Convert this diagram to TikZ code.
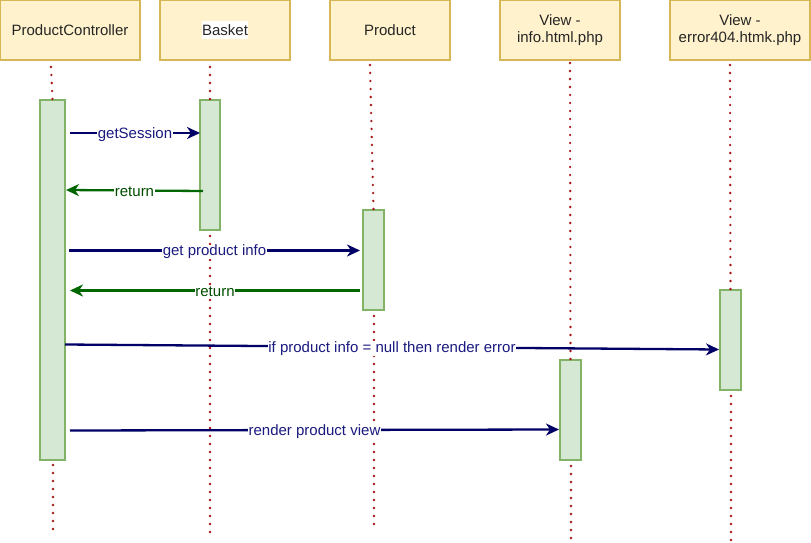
\documentclass[tikz,border=0pt]{standalone}
\usepackage{fontspec}
\setmainfont{Liberation Sans}
\usetikzlibrary{arrows.meta}
\definecolor{hdrfill}{HTML}{FFF2CC}
\definecolor{hdrdraw}{HTML}{D6B656}
\definecolor{actfill}{HTML}{D5E8D4}
\definecolor{actdraw}{HTML}{82B366}
\definecolor{lifec}{HTML}{A31515}
\definecolor{callc}{HTML}{000066}
\definecolor{callt}{HTML}{1A1A80}
\definecolor{retc}{HTML}{006600}
\definecolor{rett}{HTML}{004D00}
\begin{document}
\begin{tikzpicture}[x=1pt,y=-1pt,
  font=\fontsize{15pt}{17pt}\selectfont,
  hdr/.style={rectangle,draw=hdrdraw,fill=hdrfill,line width=1.3pt,inner sep=0pt,align=center,text=black!85},
  act/.style={rectangle,draw=actdraw,fill=actfill,line width=1.3pt,inner sep=0pt},
  life/.style={draw=lifec,line width=2.6pt,line cap=round,dash pattern=on 0pt off 8pt},
  call/.style={draw=callc,line width=2.3pt,-{Stealth[length=13pt,width=12pt,inset=4pt]}},
  ret/.style={draw=retc,line width=2.3pt,-{Stealth[length=13pt,width=12pt,inset=4pt]}},
  clab/.style={fill=white,inner sep=0.5pt,text=callt,yshift=-1.5pt},
  rlab/.style={fill=white,inner sep=0.5pt,text=rett,yshift=-1.5pt}
]
\useasboundingbox (0,0) rectangle (811,543);
% headers
\node[hdr,minimum width=140pt,minimum height=60pt] (pc) at (70,30) {ProductController};
\node[hdr,minimum width=130pt,minimum height=60pt] (bk) at (225,30) {\colorbox{white}{\hspace{-2.5pt}Basket\hspace{-2.5pt}}};
\node[hdr,minimum width=120pt,minimum height=60pt] (pr) at (390,30) {Product};
\node[hdr,minimum width=120pt,minimum height=60pt] (vi) at (560,30) {View -\\info.html.php};
\node[hdr,minimum width=140pt,minimum height=60pt] (ve) at (740,30) {View -\\error404.htmk.php};
% lifeline points
\coordinate (pcA) at (51,67); \coordinate (pcB) at (53,465); \coordinate (pcC) at (53,530);
\coordinate (bkA) at (210,67); \coordinate (bkB) at (210,236); \coordinate (bkC) at (210,533);
\coordinate (prA) at (370,65); \coordinate (prB) at (374,316); \coordinate (prC) at (374,530);
\coordinate (viA) at (570,63); \coordinate (viB) at (571,466); \coordinate (viC) at (571,540);
\coordinate (veA) at (730,65); \coordinate (veB) at (731,396); \coordinate (veC) at (731,540);
% activations
\node[act,minimum width=25pt,minimum height=360pt] (pcx) at (52.5,280) {};
\node[act,minimum width=20pt,minimum height=130pt] (bkx) at (210,165) {};
\node[act,minimum width=21pt,minimum height=100pt] (prx) at (373.5,260) {};
\node[act,minimum width=21pt,minimum height=100pt] (vix) at (570.5,410) {};
\node[act,minimum width=21pt,minimum height=100pt] (vex) at (730.5,340) {};
% lifelines
\draw[life] (pcA) -- (pcx.north);
\draw[life] (pcB) -- (pcC);
\draw[life] (bkA) -- (bkx.north);
\draw[life] (bkB) -- (bkC);
\draw[life] (prA) -- (prx.north);
\draw[life] (prB) -- (prC);
\draw[life] (viA) -- (vix.north);
\draw[life] (viB) -- (viC);
\draw[life] (veA) -- (vex.north);
\draw[life] (veB) -- (veC);
% messages
\coordinate (m1s) at (70,133); \coordinate (m1e) at (200,133);
\coordinate (m2s) at (203,191); \coordinate (m2e) at (66,190);
\coordinate (m3s) at (69,250.5); \coordinate (m3e) at (360,250.5);
\coordinate (m4s) at (360,290.5); \coordinate (m4e) at (70,290.5);
\coordinate (m5s) at (65,344.5); \coordinate (m5e) at (719,349.5);
\coordinate (m6s) at (70,430.5); \coordinate (m6e) at (559,429.5);
\draw[call] (m1s) -- node[clab] (l1) {getSession} (m1e);
\draw[ret] (m2s) -- node[rlab] (l2) {return} (m2e);
\draw[call] (m3s) -- node[clab] (l3) {get product info} (m3e);
\draw[ret] (m4s) -- node[rlab,pos=0.5] (l4) {return} (m4e);
\draw[call] (m5s) -- node[clab] (l5) {if product info = null then render error} (m5e);
\draw[call] (m6s) -- node[clab,pos=0.5] (l6) {render product view} (m6e);
\end{tikzpicture}
\end{document}
